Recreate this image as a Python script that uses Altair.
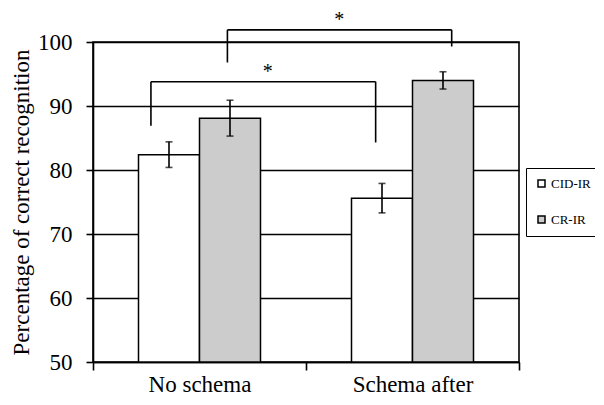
import altair as alt
import pandas as pd

conditions = ["No schema", "Schema after"]
groups = ["CID-IR", "CR-IR"]
cid_means = [82.4, 75.6]
cr_means = [88.1, 94.0]
cid_err = [2.0, 2.3]
cr_err = [2.8, 1.35]

# significance brackets (x in category units 0..2, y in percent)
br_x = [0.272, 1.327, 0.631, 1.684]   # lower-left, lower-right, upper-left, upper-right
br_top = [93.8, 101.9]
br_leg_ends = [86.9, 84.3, 96.8, 99.3]
star_x = [0.820, 1.156]
star_y = [96.8, 105.0]
star_text = ["*", "*"]

FONT = "'Times New Roman', 'Liberation Serif', serif"

rows = []
for i, c in enumerate(conditions):
    rows.append({"cond": c, "group": groups[0], "mean": cid_means[i], "err": cid_err[i]})
    rows.append({"cond": c, "group": groups[1], "mean": cr_means[i], "err": cr_err[i]})
df = pd.DataFrame(rows)
df["lo"] = df["mean"] - df["err"]
df["hi"] = df["mean"] + df["err"]
df["base"] = 50

seg = pd.DataFrame([
    {"x": br_x[0], "x2": br_x[1], "y": br_top[0], "y2": br_top[0]},
    {"x": br_x[0], "x2": br_x[0], "y": br_top[0], "y2": br_leg_ends[0]},
    {"x": br_x[1], "x2": br_x[1], "y": br_top[0], "y2": br_leg_ends[1]},
    {"x": br_x[2], "x2": br_x[3], "y": br_top[1], "y2": br_top[1]},
    {"x": br_x[2], "x2": br_x[2], "y": br_top[1], "y2": br_leg_ends[2]},
    {"x": br_x[3], "x2": br_x[3], "y": br_top[1], "y2": br_leg_ends[3]},
])
stars = pd.DataFrame({"x": star_x, "y": star_y, "t": star_text})

yscale = alt.Scale(domain=[50, 100], nice=False, zero=False)
xenc = alt.X("cond:N", sort=conditions, title=None,
             scale=alt.Scale(paddingInner=0, paddingOuter=0),
             axis=alt.Axis(labelAngle=0, tickBand="extent", tickSize=8,
                           labelFontSize=23, labelFont=FONT, labelColor="black",
                           labelPadding=3, domainColor="black", tickColor="black",
                           domainWidth=1.6, tickWidth=1.6))
xoff = alt.XOffset("group:N", sort=groups, scale=alt.Scale(paddingOuter=0.746, paddingInner=0))

bars = alt.Chart(df).mark_bar(stroke="black", strokeWidth=1.5).encode(
    x=xenc,
    xOffset=xoff,
    y=alt.Y("mean:Q", scale=yscale, title="Percentage of correct recognition",
            axis=alt.Axis(values=[50, 60, 70, 80, 90, 100], grid=True, gridColor="black",
                          gridWidth=1.6, gridOpacity=1, tickSize=7, tickColor="black",
                          tickWidth=1.6, domainColor="black", domainWidth=1.6,
                          labelFontSize=23, labelFont=FONT, labelColor="black",
                          labelPadding=14, titleFontSize=23, titleFont=FONT,
                          titleFontWeight="normal", titleColor="black", titlePadding=4)),
    y2=alt.Y2("base:Q"),
    fill=alt.Fill("group:N", sort=groups,
                  scale=alt.Scale(domain=groups, range=["white", "#cccccc"]),
                  legend=alt.Legend(title=None, orient="none", legendX=433, legendY=126,
                                    symbolType="square", symbolSize=49,
                                    symbolStrokeColor="black", symbolStrokeWidth=1.5,
                                    labelFontSize=13, labelFont=FONT, labelColor="black",
                                    labelOffset=3, rowPadding=22, padding=9,
                                    strokeColor="black", fillColor="white")),
)

err = alt.Chart(df).mark_rule(color="black", strokeWidth=1.6).encode(
    x=alt.X("cond:N", sort=conditions),
    xOffset=xoff,
    y=alt.Y("lo:Q", scale=yscale),
    y2="hi:Q",
)
cap_hi = alt.Chart(df).mark_tick(color="black", thickness=1.6, size=7, orient="horizontal").encode(
    x=alt.X("cond:N", sort=conditions),
    xOffset=xoff,
    y=alt.Y("hi:Q", scale=yscale),
)
cap_lo = alt.Chart(df).mark_tick(color="black", thickness=1.6, size=7, orient="horizontal").encode(
    x=alt.X("cond:N", sort=conditions),
    xOffset=xoff,
    y=alt.Y("lo:Q", scale=yscale),
)

bars_layer = alt.layer(bars, err, cap_hi, cap_lo)

qx = alt.Scale(domain=[0, 2], nice=False, zero=False)
brackets = alt.Chart(seg).mark_rule(color="black", strokeWidth=1.6).encode(
    x=alt.X("x:Q", scale=qx, axis=None),
    x2="x2:Q",
    y=alt.Y("y:Q", scale=yscale),
    y2="y2:Q",
)
star_marks = alt.Chart(stars).mark_text(font=FONT, fontSize=20, baseline="top", color="black").encode(
    x=alt.X("x:Q", scale=qx, axis=None),
    y=alt.Y("y:Q", scale=yscale),
    text="t:N",
)
ann = alt.layer(brackets, star_marks)

chart = alt.layer(bars_layer, ann).resolve_scale(x="independent").properties(
    width=426, height=320,
    autosize=alt.AutoSizeParams(type="none"),
    padding={"left": 85, "top": 34, "right": 76, "bottom": 35},
).configure_view(stroke="black", strokeWidth=1.6)

chart.save("out.html", embed_options={"renderer": "svg", "actions": False})
